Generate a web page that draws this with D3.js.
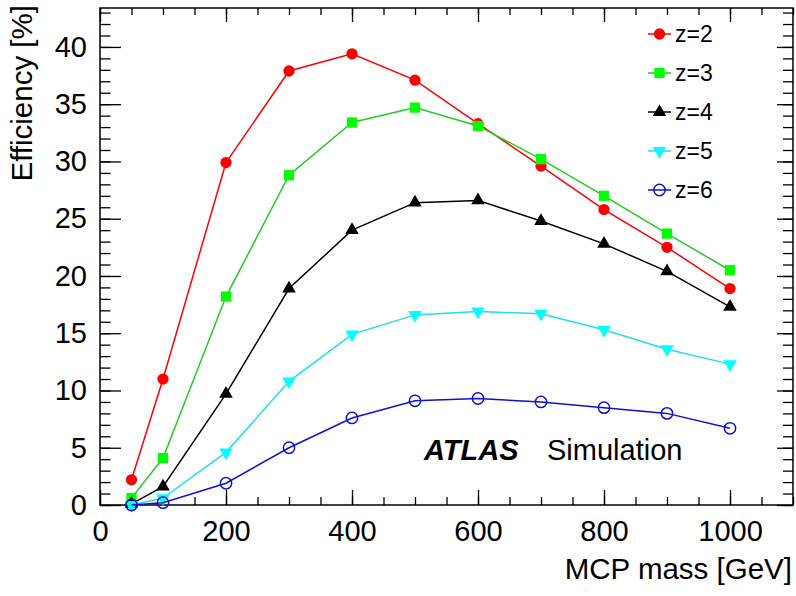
<!DOCTYPE html>
<html>
<head>
<meta charset="utf-8">
<script src="https://cdn.jsdelivr.net/npm/d3@7"></script>
<style>
body { margin: 0; background: #fff; }
text { font-family: "Liberation Sans", Arial, Helvetica, sans-serif; }
</style>
</head>
<body>
<div id="plot"></div>
<script>
// MCP mass points [GeV]
var masses = [50, 100, 200, 300, 400, 500, 600, 700, 800, 900, 1000];

// efficiency [%] per charge
var effZ2 = [2.2, 11.0, 29.9, 37.9, 39.4, 37.1, 33.3, 29.6, 25.8, 22.5, 18.9];
var effZ3 = [0.6, 4.1, 18.2, 28.8, 33.4, 34.7, 33.1, 30.2, 27.0, 23.7, 20.5];
var effZ4 = [0.1, 1.6, 9.7, 18.9, 24.0, 26.4, 26.6, 24.8, 22.8, 20.4, 17.3];
var effZ5 = [0.0, 0.6, 4.6, 10.8, 14.9, 16.6, 16.9, 16.7, 15.3, 13.6, 12.3];
var effZ6 = [0.0, 0.2, 1.9, 5.0, 7.6, 9.1, 9.3, 9.0, 8.5, 8.0, 6.7];

var seriesNames = ["z=2", "z=3", "z=4", "z=5", "z=6"];
var xTicks = [0, 200, 400, 600, 800, 1000];
var yTicks = [0, 5, 10, 15, 20, 25, 30, 35, 40];

var margin = { top: 8, right: 3, bottom: 91, left: 100 }
    , width = 796 - margin.left - margin.right
    , height = 596 - margin.top - margin.bottom;

var styles = [
    { line: "#ff0000", fill: "#ff0000", stroke: "none", shape: d3.symbolCircle, size: 100, rot: 0 },
    { line: "#22cc22", fill: "#00ff00", stroke: "none", shape: d3.symbolSquare, size: 105, rot: 0 },
    { line: "#000000", fill: "#000000", stroke: "none", shape: d3.symbolTriangle, size: 80, rot: 0 },
    { line: "#22ddee", fill: "#00ffff", stroke: "none", shape: d3.symbolTriangle, size: 80, rot: 180 },
    { line: "#1010d0", fill: "none", stroke: "#1010d0", shape: d3.symbolCircle, size: 100, rot: 0 }
];

var allSeries = [effZ2, effZ3, effZ4, effZ5, effZ6];

var xScale = d3.scaleLinear().domain([0, 1100]).range([0, width]);
var yScale = d3.scaleLinear().domain([0, 43.4]).range([height, 0]);

var svg = d3.select("#plot").append("svg")
    .attr("width", 796)
    .attr("height", 596);

var g = svg.append("g")
    .attr("transform", "translate(" + margin.left + "," + margin.top + ")");

var xMinor = d3.range(0, 1101, 50);
var yMinor = d3.range(0, 44, 1);

// bottom axis
g.append("g").attr("class", "x axis")
    .attr("transform", "translate(0," + height + ")")
    .call(d3.axisBottom(xScale).tickValues(xMinor).tickSize(-8).tickFormat(""));
g.append("g").attr("class", "x axis")
    .attr("transform", "translate(0," + height + ")")
    .call(d3.axisBottom(xScale).tickValues(xTicks).tickSize(-15).tickPadding(15).tickFormat(d3.format("d")));
// top axis
g.append("g").attr("class", "x axis")
    .call(d3.axisTop(xScale).tickValues(xMinor).tickSize(-7).tickFormat(""));
g.append("g").attr("class", "x axis")
    .call(d3.axisTop(xScale).tickValues(xTicks).tickSize(-14).tickFormat(""));
// left axis
g.append("g").attr("class", "y axis")
    .call(d3.axisLeft(yScale).tickValues(yMinor).tickSize(-10.5).tickFormat(""));
g.append("g").attr("class", "y axis")
    .call(d3.axisLeft(yScale).tickValues(yTicks).tickSize(-21).tickPadding(13));
// right axis
g.append("g").attr("class", "y axis")
    .attr("transform", "translate(" + width + ",0)")
    .call(d3.axisRight(yScale).tickValues(yMinor).tickSize(-10).tickFormat(""));
g.append("g").attr("class", "y axis")
    .attr("transform", "translate(" + width + ",0)")
    .call(d3.axisRight(yScale).tickValues(yTicks).tickSize(-16).tickFormat(""));

g.selectAll(".axis .domain").remove();
g.selectAll(".axis line").attr("stroke", "#000").attr("stroke-width", 1.3);
g.selectAll(".axis text")
    .attr("fill", "#000")
    .style("font-size", "29px");

// frame
g.append("rect")
    .attr("width", width)
    .attr("height", height)
    .attr("fill", "none")
    .attr("stroke", "#000")
    .attr("stroke-width", 1.5);

var plotLine = d3.line()
    .x(function (d, i) { return xScale(masses[i]); })
    .y(function (d) { return yScale(d); });

allSeries.forEach(function (vals, k) {
    var st = styles[k];
    g.append("path")
        .datum(vals)
        .attr("d", plotLine)
        .attr("fill", "none")
        .attr("stroke", st.line)
        .attr("stroke-width", 1.5);
    g.selectAll(".m" + k)
        .data(vals)
        .enter().append("path")
        .attr("class", "m" + k)
        .attr("d", d3.symbol().type(st.shape).size(st.size))
        .attr("transform", function (d, i) {
            return "translate(" + xScale(masses[i]) + "," + yScale(d) + ") rotate(" + st.rot + ")";
        })
        .attr("fill", st.fill)
        .attr("stroke", st.stroke)
        .attr("stroke-width", 1.5);
});

// legend
var legend = svg.append("g").attr("transform", "translate(648,34)");
seriesNames.forEach(function (name, k) {
    var st = styles[k];
    var row = legend.append("g").attr("transform", "translate(0," + (k * 39) + ")");
    row.append("line")
        .attr("x1", 0).attr("x2", 23)
        .attr("stroke", st.line)
        .attr("stroke-width", 1.5);
    row.append("path")
        .attr("d", d3.symbol().type(st.shape).size(st.size))
        .attr("transform", "translate(11.5,0) rotate(" + st.rot + ")")
        .attr("fill", st.fill)
        .attr("stroke", st.stroke)
        .attr("stroke-width", 1.5);
    row.append("text")
        .attr("x", 27)
        .attr("dy", "0.36em")
        .style("font-size", "23px")
        .text(name);
});

// ATLAS label
svg.append("text")
    .attr("x", 424).attr("y", 460)
    .style("font-size", "29px")
    .style("font-weight", "bold")
    .style("font-style", "italic")
    .text("ATLAS");
svg.append("text")
    .attr("x", 547).attr("y", 460)
    .style("font-size", "29px")
    .text("Simulation");

// axis titles
svg.append("text")
    .attr("x", 792).attr("y", 579)
    .attr("text-anchor", "end")
    .style("font-size", "29.5px")
    .text("MCP mass [GeV]");
svg.append("text")
    .attr("transform", "translate(32,5) rotate(-90)")
    .attr("text-anchor", "end")
    .style("font-size", "29.5px")
    .text("Efficiency [%]");
</script>
</body>
</html>
